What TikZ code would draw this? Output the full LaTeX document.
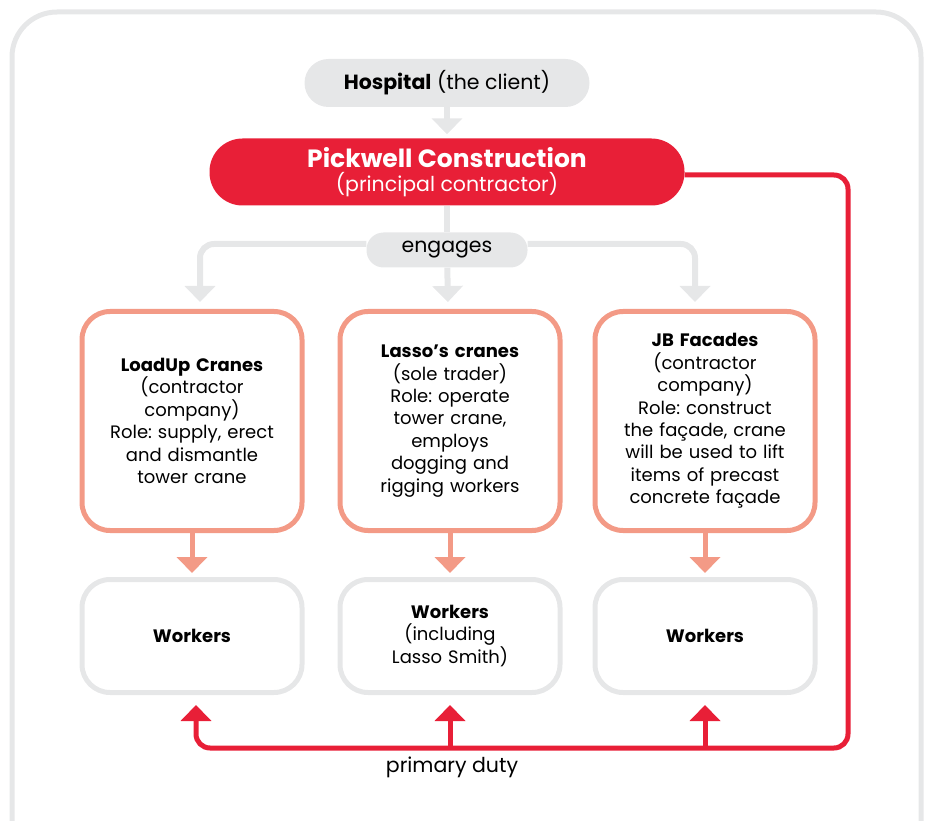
\documentclass[tikz,border=0pt]{standalone}
\usepackage{fontspec}
\setmainfont{Poppins}
\usetikzlibrary{arrows.meta,positioning}
\definecolor{framegray}{HTML}{E6E7E8}
\definecolor{pickred}{HTML}{E81F37}
\definecolor{salmon}{HTML}{F39A86}
\newcommand{\body}{\fontsize{18}{22.4}\selectfont}
\newcommand{\lbl}{\fontsize{20.5}{24}\selectfont}
\frenchspacing

\begin{document}
\begin{tikzpicture}[x=1pt,y=-1pt,>={Triangle[width=30pt,length=16pt]},
    pill/.style={fill=framegray,rectangle,align=center,font=\lbl},
    rolebox/.style={draw=salmon,line width=5pt,rounded corners=28pt,minimum width=220pt,minimum height=219pt,align=center,text width=205pt,font=\body},
    workbox/.style={draw=framegray,line width=5pt,rounded corners=28pt,minimum width=220pt,minimum height=113pt,align=center,text width=205pt,font=\body},
    grayarrow/.style={framegray,line width=6pt,rounded corners=14pt},
    salarrow/.style={salmon,line width=5pt},
    duty/.style={pickred,line width=5pt,rounded corners=14pt}]
    \useasboundingbox(0,0)rectangle(930,821);
    \clip(0,0)rectangle(930,821);
    \draw[framegray,line width=5pt,rounded corners=45pt](12,12)rectangle(921,870);
    % top of the chain
    \node[pill,rounded corners=24pt,minimum width=285pt,minimum height=48pt](hosp)at(447,83){\textbf{Hospital} (the client)};
    \node[pill,fill=pickred,text=white,rounded corners=33pt,minimum width=475pt,minimum height=67pt](pick)at(447,172){{\fontsize{25}{28}\selectfont\textbf{Pickwell Construction}}\\[0pt](principal contractor)};
    \node[pill,rounded corners=17pt,minimum width=161pt,minimum height=35pt](eng)at(447,250){engages};
    % contractors
    \node[rolebox](load)at(192,421){\textbf{LoadUp Cranes}\\(contractor\\company)\\Role: supply, erect\\and dismantle\\tower crane};
    \node[rolebox](lasso)at(450,421){\textbf{Lasso’s cranes}\\(sole trader)\\Role: operate\\tower crane,\\employs\\dogging and\\rigging workers};
    \node[rolebox](jbf)at(705,421){\textbf{JB Facades}\\(contractor\\company)\\Role: construct\\the façade, crane\\will be used to lift\\items of precast\\concrete façade};
    % workers
    \node[workbox](wload)at(192,636){\textbf{Workers}};
    \node[workbox](wlasso)at(450,636){\textbf{Workers}\\(including\\Lasso Smith)};
    \node[workbox](wjbf)at(705,636){\textbf{Workers}};
    \coordinate(dutyR)at(848,748);
    \coordinate(dutyM)at(450,748);
    \coordinate(dutyJ)at(705,748);
    \node[font=\lbl]at(452,767){primary duty};
    % connectors
    \draw[grayarrow,->,shorten >=4pt](hosp)--(pick);
    \draw[grayarrow](pick)--(eng);
    \draw[grayarrow,->,shorten >=7pt](eng)--(lasso);
    \draw[grayarrow,->,shorten >=7pt]([yshift=6pt]eng.west)-|([xshift=8pt]load.north);
    \draw[grayarrow,->,shorten >=7pt]([yshift=6pt]eng.east)-|([xshift=-10pt]jbf.north);
    \draw[salarrow,->,shorten >=4pt](load)--(wload);
    \draw[salarrow,->,shorten >=4pt](lasso)--(wlasso);
    \draw[salarrow,->,shorten >=4pt](jbf)--(wjbf);
    \draw[duty,->,shorten >=10pt]([yshift=-3pt]pick.east)-|(dutyR)-|([xshift=4pt]wload.south);
    \draw[duty,->,shorten >=10pt](dutyM)--(wlasso);
    \draw[duty,->,shorten >=10pt](dutyJ)--(wjbf);
\end{tikzpicture}
\end{document}
